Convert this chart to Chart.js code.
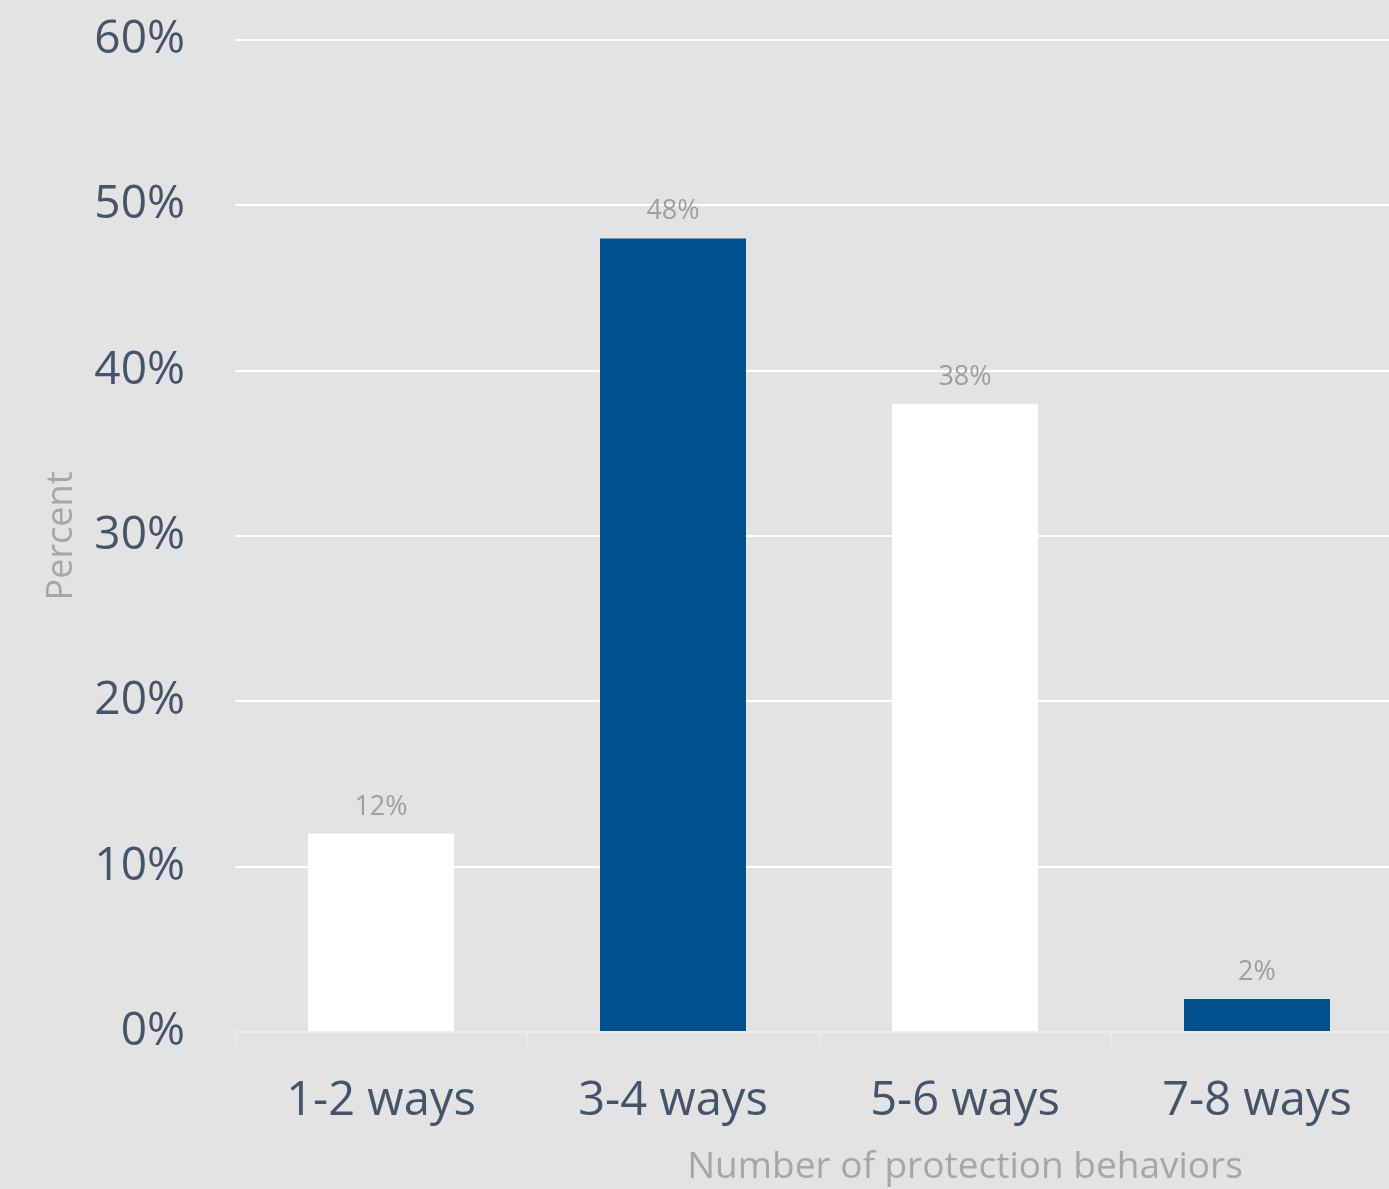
<!DOCTYPE html>
<html>
<head>
<meta charset="utf-8">
<script src="https://cdn.jsdelivr.net/npm/chart.js@4.4.1/dist/chart.umd.min.js"></script>
<style>
    html, body { margin: 0; padding: 0; overflow: hidden; background: #e3e3e3; }
    canvas { display: block; }
</style>
</head>
<body>
<canvas id="chart" width="1403" height="1189"></canvas>
<script>
// datos
const categories = ["1-2 ways", "3-4 ways", "5-6 ways", "7-8 ways"];
const percents = [12, 48, 38, 2];
const barColors = ["#ffffff", "#00518f", "#ffffff", "#00518f"];
const yTicks = [0, 10, 20, 30, 40, 50, 60];

const xTitle = "Number of protection behaviors";
const yTitle = "Percent";

const FONT = "'Open Sans', 'Noto Sans', sans-serif";

// etiquetas encima de las barras
const valueLabels = {
    id: "valueLabels",
    afterDatasetsDraw(chart) {
        const ctx = chart.ctx;
        const meta = chart.getDatasetMeta(0);
        ctx.save();
        ctx.font = "27px " + FONT;
        ctx.fillStyle = "#9e9e9e";
        ctx.textAlign = "center";
        ctx.textBaseline = "alphabetic";
        meta.data.forEach((bar, i) => {
            ctx.fillText(percents[i] + "%", bar.x, bar.y - 19);
        });
        ctx.restore();
    }
};

// titulo del eje x (desplazado a la derecha)
const xAxisTitle = {
    id: "xAxisTitle",
    afterDraw(chart) {
        const ctx = chart.ctx;
        const area = chart.chartArea;
        ctx.save();
        ctx.font = "37px " + FONT;
        ctx.fillStyle = "#a6a6a6";
        ctx.textAlign = "center";
        ctx.textBaseline = "middle";
        ctx.fillText(xTitle, area.left + 730, area.bottom + 135);
        ctx.restore();
    }
};

const ctx = document.getElementById("chart").getContext("2d");

new Chart(ctx, {
    type: "bar",
    data: {
        labels: categories,
        datasets: [{
            data: percents,
            backgroundColor: barColors,
            borderWidth: 0,
            barPercentage: 0.5,
            categoryPercentage: 1
        }]
    },
    options: {
        responsive: false,
        animation: false,
        layout: { padding: { top: 40, right: 0, bottom: 0, left: 0 } },
        plugins: {
            legend: { display: false },
            tooltip: { enabled: false }
        },
        scales: {
            x: {
                offset: true,
                grid: {
                    drawOnChartArea: false,
                    drawTicks: true,
                    tickLength: 16,
                    color: "#ececec",
                    lineWidth: 1
                },
                border: { display: true, color: "#ececec", width: 2 },
                ticks: {
                    color: "#44546a",
                    font: { family: FONT, size: 47 },
                    padding: 25
                },
                afterFit(scale) { scale.height = 157; }
            },
            y: {
                min: 0,
                max: 60,
                afterBuildTicks(scale) {
                    scale.ticks = yTicks.map(v => ({ value: v }));
                },
                grid: {
                    color: "#ffffff",
                    lineWidth: 2,
                    drawTicks: false
                },
                border: { display: false },
                ticks: {
                    color: "#44546a",
                    font: { family: FONT, size: 46 },
                    padding: 50,
                    callback: v => v + "%"
                },
                title: {
                    display: true,
                    text: yTitle,
                    color: "#a6a6a6",
                    font: { family: FONT, size: 36 },
                    padding: { top: 40, bottom: 0 }
                },
                afterFit(scale) {
                    scale.width = 235;
                    scale.paddingTop = 0;
                    scale.paddingBottom = 0;
                }
            }
        }
    },
    plugins: [valueLabels, xAxisTitle]
});
</script>
</body>
</html>
